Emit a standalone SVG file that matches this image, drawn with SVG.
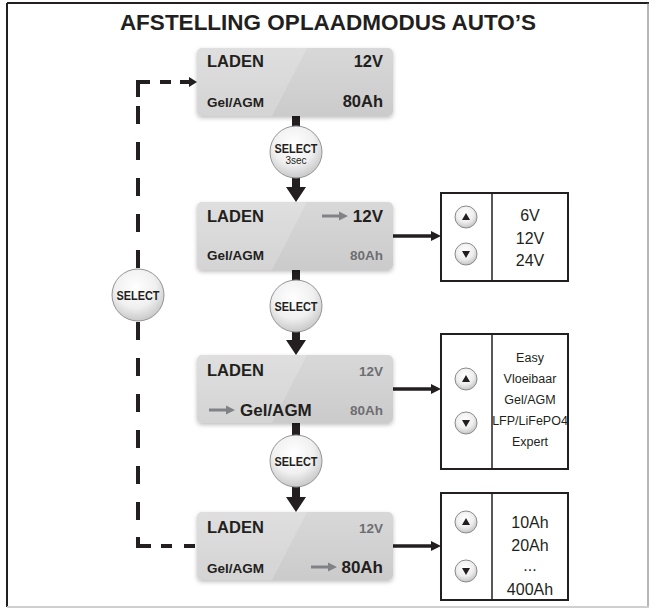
<svg xmlns="http://www.w3.org/2000/svg" xmlns:xlink="http://www.w3.org/1999/xlink" width="656" height="612" viewBox="0 0 656 612">
<defs>
<style>
.t{font-family:"Liberation Sans",Arial,sans-serif;fill:#231f20}
.lg{font-size:16.5px;font-weight:bold}
.xl{font-size:17px;font-weight:bold}
.sm{font-size:13.5px;font-weight:bold}
.gr{fill:#6d6e71}
.end{text-anchor:end}
.opt{font-size:16px;text-anchor:middle}
.opt2{font-size:12.5px;text-anchor:middle}
.sel{font-size:13px;font-weight:bold;text-anchor:middle}
.conn{stroke:#231f20;fill:none}
.dash{stroke:#231f20;stroke-width:4;fill:none}
.rbox{fill:#fff;stroke:#231f20;stroke-width:2}
.div{stroke:#231f20;stroke-width:1.5}
.btn{fill:url(#btnG);stroke:#8a8a8a;stroke-width:1}
.selc{fill:url(#selG);stroke:#939598;stroke-width:1}
.blk{fill:#231f20}
</style>
<linearGradient id="lcdG" x1="0" y1="0" x2="0" y2="1">
<stop offset="0" stop-color="#d8d8d9"/>
<stop offset="1" stop-color="#cbcbcc"/>
</linearGradient>
<radialGradient id="selG" cx="0.45" cy="0.35" r="0.65">
<stop offset="0" stop-color="#ffffff"/>
<stop offset="0.6" stop-color="#f0f0f0"/>
<stop offset="1" stop-color="#c9c9ca"/>
</radialGradient>
<radialGradient id="btnG" cx="0.45" cy="0.35" r="0.65">
<stop offset="0" stop-color="#ffffff"/>
<stop offset="0.6" stop-color="#eeeeee"/>
<stop offset="1" stop-color="#c4c4c5"/>
</radialGradient>
<filter id="sh" x="-10%" y="-10%" width="120%" height="130%">
<feDropShadow dx="0" dy="2" stdDeviation="2" flood-color="#000" flood-opacity="0.25"/>
</filter>
<symbol id="lcd" overflow="visible">
<rect x="0" y="0" width="196" height="68" rx="5" fill="url(#lcdG)" filter="url(#sh)"/>
<path d="M5 0 H110 L75 68 H5 A5 5 0 0 1 0 63 V5 A5 5 0 0 1 5 0 Z" fill="#ffffff" opacity="0.18"/>
</symbol>
<symbol id="garrow" overflow="visible">
<path d="M0 -1.6 H17 V-4.5 L26 0 L17 4.5 V1.6 H0 Z" fill="#808285"/>
</symbol>
<symbol id="up" overflow="visible">
<circle cx="0" cy="0" r="11" class="btn"/>
<path d="M-4 3 L0 -4 L4 3 Z" class="blk"/>
</symbol>
<symbol id="down" overflow="visible">
<circle cx="0" cy="0" r="11" class="btn"/>
<path d="M-4 -3 L0 4 L4 -3 Z" class="blk"/>
</symbol>
</defs>

<rect x="0" y="0" width="656" height="612" fill="#fff"/>
<g id="frame">
<line x1="7" y1="3" x2="649" y2="3" stroke="#231f20" stroke-width="2"/>
<line x1="7" y1="3" x2="7" y2="607" stroke="#231f20" stroke-width="2"/>
<line x1="648" y1="3" x2="648" y2="607" stroke="#6d6e71" stroke-width="1"/>
<line x1="7" y1="607" x2="649" y2="607" stroke="#cfcfcf" stroke-width="2"/>
</g>
<text id="title" class="t" x="328" y="30" font-size="22.5" font-weight="bold" text-anchor="middle">AFSTELLING OPLAADMODUS AUTO’S</text>

<g id="connectors">
<path class="dash" d="M150 82 H138 V97"/>
<path class="dash" d="M138 106 V530" stroke-dasharray="18 18"/>
<path class="dash" d="M138 537 V546 H151"/>
<path class="dash" d="M160 82 H190" stroke-dasharray="11 9"/>
<path class="blk" d="M189 77 L197 82 L189 87 Z"/>
<path class="dash" d="M161 546 H197" stroke-dasharray="11 12"/>
<rect class="blk" x="292" y="114" width="8" height="14"/>
<path class="blk" d="M292 175 H300 V187 H306 L296 202 L286 187 H292 Z"/>
<rect class="blk" x="292" y="267" width="8" height="15"/>
<path class="blk" d="M292 329 H300 V340 H306 L296 355 L286 340 H292 Z"/>
<rect class="blk" x="292" y="421" width="8" height="16"/>
<path class="blk" d="M292 484 H300 V497 H306 L296 512 L286 497 H292 Z"/>
<line class="conn" x1="393" y1="236" x2="432" y2="236" stroke-width="3.5"/>
<path class="blk" d="M431 231 L441 236 L431 241 Z"/>
<line class="conn" x1="393" y1="389" x2="432" y2="389" stroke-width="3.5"/>
<path class="blk" d="M431 384 L441 389 L431 394 Z"/>
<line class="conn" x1="393" y1="546" x2="432" y2="546" stroke-width="3.5"/>
<path class="blk" d="M431 541 L441 546 L431 551 Z"/>
</g>

<g id="lcd1">
<use href="#lcd" x="197" y="48"/>
<text class="t lg" x="207" y="67">LADEN</text>
<text class="t lg end" x="383" y="67">12V</text>
<text class="t sm" x="207" y="107">Gel/AGM</text>
<text class="t lg end" x="383" y="107">80Ah</text>
</g>
<g id="lcd2">
<use href="#lcd" x="197" y="202"/>
<text class="t lg" x="207" y="222">LADEN</text>
<use href="#garrow" x="322" y="216"/>
<text class="t xl end" x="383" y="222">12V</text>
<text class="t sm" x="207" y="260">Gel/AGM</text>
<text class="t sm gr end" x="383" y="260">80Ah</text>
</g>
<g id="lcd3">
<use href="#lcd" x="197" y="355"/>
<text class="t lg" x="207" y="376">LADEN</text>
<text class="t sm gr end" x="383" y="376">12V</text>
<use href="#garrow" x="209" y="410"/>
<text class="t xl" x="240" y="416">Gel/AGM</text>
<text class="t sm gr end" x="383" y="415">80Ah</text>
</g>
<g id="lcd4">
<use href="#lcd" x="197" y="512"/>
<text class="t lg" x="207" y="533">LADEN</text>
<text class="t sm gr end" x="383" y="533">12V</text>
<text class="t sm" x="207" y="573">Gel/AGM</text>
<use href="#garrow" x="311" y="567"/>
<text class="t xl end" x="383" y="573">80Ah</text>
</g>

<g id="select1">
<circle class="selc" cx="296" cy="152" r="26"/>
<text class="t sel" x="296" y="153" textLength="43" lengthAdjust="spacingAndGlyphs">SELECT</text>
<text class="t" x="296" y="164" font-size="10" text-anchor="middle">3sec</text>
</g>
<g id="select2">
<circle class="selc" cx="296" cy="306" r="26"/>
<text class="t sel" x="296" y="311" textLength="43" lengthAdjust="spacingAndGlyphs">SELECT</text>
</g>
<g id="select3">
<circle class="selc" cx="296" cy="461" r="26"/>
<text class="t sel" x="296" y="466" textLength="43" lengthAdjust="spacingAndGlyphs">SELECT</text>
</g>
<g id="selectLoop">
<circle class="selc" cx="138" cy="295" r="26"/>
<text class="t sel" x="138" y="300" textLength="43" lengthAdjust="spacingAndGlyphs">SELECT</text>
</g>

<g id="voltage">
<rect class="rbox" x="441" y="193" width="127" height="88"/>
<line class="div" x1="492" y1="193" x2="492" y2="281"/>
<use href="#up" x="466" y="217"/>
<use href="#down" x="466" y="254"/>
<text class="t opt" x="530" y="221">6V</text>
<text class="t opt" x="530" y="244">12V</text>
<text class="t opt" x="530" y="266">24V</text>
</g>
<g id="type">
<rect class="rbox" x="441" y="334" width="127" height="135"/>
<line class="div" x1="492" y1="334" x2="492" y2="469"/>
<use href="#up" x="466" y="379"/>
<use href="#down" x="466" y="423"/>
<text class="t opt2" x="530" y="362">Easy</text>
<text class="t opt2" x="530" y="383">Vloeibaar</text>
<text class="t opt2" x="530" y="404">Gel/AGM</text>
<text class="t opt2" x="530" y="425">LFP/LiFePO4</text>
<text class="t opt2" x="530" y="446">Expert</text>
</g>
<g id="capacity">
<rect class="rbox" x="441" y="493" width="127" height="107"/>
<line class="div" x1="492" y1="493" x2="492" y2="600"/>
<use href="#up" x="466" y="522"/>
<use href="#down" x="466" y="571"/>
<text class="t opt" x="530" y="528">10Ah</text>
<text class="t opt" x="530" y="551">20Ah</text>
<text class="t opt" x="530" y="571">...</text>
<text class="t opt" x="530" y="595">400Ah</text>
</g>
</svg>
